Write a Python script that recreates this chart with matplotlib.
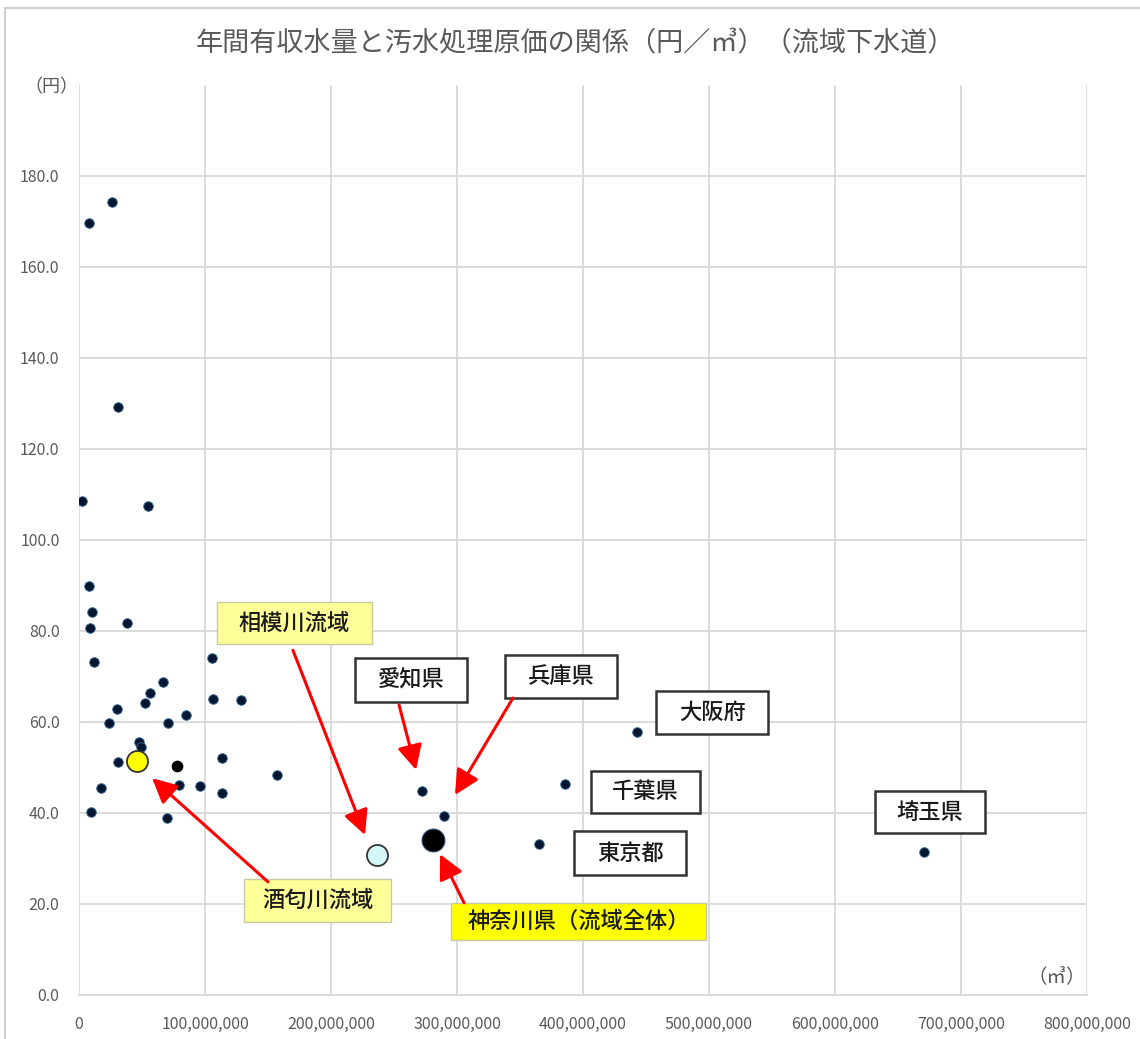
import matplotlib.pyplot as plt
from matplotlib.patches import Rectangle
from matplotlib.ticker import FuncFormatter

plt.rcParams['font.family'] = ['Noto Sans CJK JP', 'DejaVu Sans']

# 年間有収水量 (m3) と 汚水処理原価 (円/m3) -- 流域下水道
volume = [2.6e6, 7.9e6, 26.4e6, 31.2e6, 54.5e6, 7.9e6, 10.1e6, 8.7e6, 37.9e6, 11.7e6,
          105.3e6, 66.7e6, 56.3e6, 52.4e6, 30.4e6, 84.7e6, 23.8e6, 70.9e6, 106.1e6, 128.3e6,
          47.6e6, 49.2e6, 31.0e6, 113.5e6, 157.1e6, 17.7e6, 79.6e6, 96.3e6, 113.5e6, 9.3e6,
          69.6e6, 272.0e6, 289.7e6, 365.3e6, 385.5e6, 443.1e6, 670.9e6]
cost = [108.6, 169.6, 174.2, 129.2, 107.3, 89.8, 84.2, 80.7, 81.6, 73.2,
        74.0, 68.7, 66.4, 64.2, 62.7, 61.5, 59.7, 59.7, 65.1, 64.8,
        55.6, 54.5, 51.2, 52.0, 48.4, 45.4, 46.0, 45.9, 44.3, 40.2,
        38.8, 44.8, 39.3, 33.1, 46.3, 57.7, 31.3]

# 神奈川県内の流域
sakawa = (45.8e6, 51.4)      # 酒匂川流域
sagami = (236.3e6, 30.6)     # 相模川流域
kanagawa = (281.2e6, 34.0)   # 神奈川県（流域全体）
other_black = (78.0e6, 50.3)

x_ticks = [0, 100e6, 200e6, 300e6, 400e6, 500e6, 600e6, 700e6, 800e6]
y_ticks = [0, 20, 40, 60, 80, 100, 120, 140, 160, 180]

# ラベル: (text, box x0, box x1, box y0, box y1, face)
labels = [
    ('相模川流域', 109.5e6, 232.5e6, 77.1, 86.3, '#ffff99'),
    ('愛知県', 219e6, 308e6, 64.3, 74.0, 'white'),
    ('兵庫県', 338e6, 427e6, 65.2, 74.6, 'white'),
    ('大阪府', 458e6, 547e6, 57.3, 66.7, 'white'),
    ('千葉県', 406e6, 493e6, 40.0, 49.2, 'white'),
    ('東京都', 393e6, 482e6, 26.3, 36.0, 'white'),
    ('埼玉県', 632e6, 719e6, 35.5, 44.8, 'white'),
    ('酒匂川流域', 131e6, 248e6, 16.0, 25.4, '#ffff99'),
    ('神奈川県（流域全体）', 295e6, 498e6, 12.0, 20.2, '#ffff00'),
]
# 矢印: (start, end)
arrows = [
    ((169.8e6, 75.7), (227e6, 35.1)),
    ((254e6, 63.7), (267.5e6, 49.4)),
    ((344.4e6, 65.2), (298.4e6, 43.9)),
    ((150e6, 24.8), (58e6, 47.6)),
    ((305.6e6, 20.2), (286.5e6, 30.9)),
]

fig = plt.figure(figsize=(11.4, 10.39), dpi=100)
fig.patches.append(Rectangle((0.004, -0.01), 1.2, 1.002, transform=fig.transFigure,
                             fill=False, edgecolor='#d0d0d0', lw=1.5))
ax = fig.add_axes([0.0693, 0.0426, 0.8842, 0.8759])

ax.scatter(volume, cost, s=48, color='#071630', edgecolors='#3a6d9a', linewidths=0.6, zorder=3)
ax.scatter(*other_black, s=55, color='black', zorder=3)
ax.scatter(*sakawa, s=230, color='#ffff00', edgecolors='#333333', linewidths=1.3, zorder=4)
ax.scatter(*sagami, s=230, color='#d4f7f7', edgecolors='#333333', linewidths=1.3, zorder=4)
ax.scatter(*kanagawa, s=270, color='black', edgecolors='#2a4a70', linewidths=0.8, zorder=4)

for text, x0, x1, y0, y1, face in labels:
    edge = '#333333' if face == 'white' else '#c9c9a0'
    ax.add_patch(Rectangle((x0, y0), x1 - x0, y1 - y0, facecolor=face, edgecolor=edge,
                           lw=1.8 if face == 'white' else 1.0, zorder=5))
    ax.text((x0 + x1) / 2, (y0 + y1) / 2, text, ha='center', va='center',
            fontsize=16, fontweight='medium', color='#1a1a1a', zorder=6)

for start, end in arrows:
    ax.annotate('', xy=end, xytext=start,
                arrowprops=dict(arrowstyle='-|>,head_length=0.5,head_width=0.25',
                                color='#ff0000', lw=2.2,
                                mutation_scale=30, shrinkA=0, shrinkB=0),
                zorder=5)

ax.set_xlim(0, 800e6)
ax.set_ylim(0, 200)
ax.set_xticks(x_ticks)
ax.set_yticks(y_ticks)
ax.xaxis.set_major_formatter(FuncFormatter(lambda v, p: f'{v:,.0f}'))
ax.yaxis.set_major_formatter(FuncFormatter(lambda v, p: f'{v:.1f}'))
ax.tick_params(length=0, labelsize=11.5, colors='#595959')
ax.tick_params(axis='x', pad=15)
ax.tick_params(axis='y', pad=14)
ax.grid(True, color='#d9d9d9', lw=1.3)
ax.set_axisbelow(True)
for side in ['top', 'right', 'left']:
    ax.spines[side].set_visible(False)
ax.spines['bottom'].set_color('#d9d9d9')
ax.spines['bottom'].set_linewidth(1.3)

fig.text(0.505, 0.958, '年間有収水量と汚水処理原価の関係（円／㎥）（流域下水道）',
         ha='center', va='center', fontsize=19.5, color='#595959')
fig.text(0.045, 0.916, '（円）', ha='center', va='center', fontsize=13, color='#595959')
fig.text(0.927, 0.06, '（㎥）', ha='center', va='center', fontsize=14, color='#595959')

fig.savefig('out.png', dpi=100)
